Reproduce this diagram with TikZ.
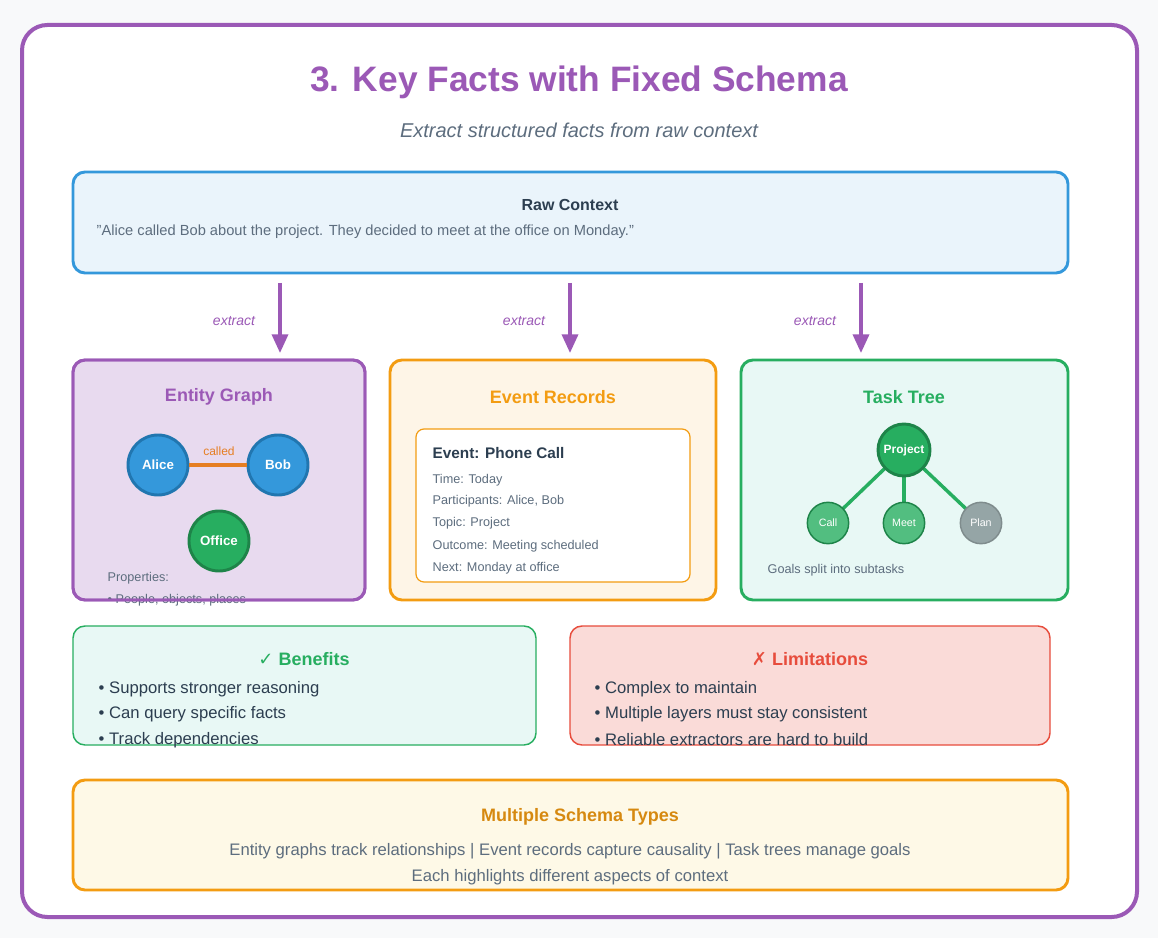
\documentclass[tikz,border=0pt]{standalone}
\usepackage{fontspec}
\setmainfont{Liberation Sans}
\newfontfamily\symfont{DejaVu Sans}
\definecolor{cPurple}{HTML}{9B59B6}
\definecolor{cBlue}{HTML}{3498DB}
\definecolor{cOrange}{HTML}{F39C12}
\definecolor{cGreen}{HTML}{27AE60}
\definecolor{cRed}{HTML}{E74C3C}
\definecolor{cGray}{HTML}{95A5A6}
\definecolor{cText}{HTML}{2C3E50}
\definecolor{cSub}{HTML}{5D6D7E}
\newcommand{\fs}[1]{\fontsize{#1}{#1}\selectfont}
\tikzset{
  panel/.style={draw=#1, line width=2.2pt, rounded corners=9pt},
  bullets/.style={anchor=west, text=cText, font=\fs{12.5}},
  small/.style={anchor=west, text=cSub, font=\fs{9.5}},
  ball/.style={circle, minimum size=#1, inner sep=0pt, text=white, font=\bfseries\fs{10}},
  grab/.style={-{Triangle[length=14pt,width=12pt]}, draw=cPurple, line width=2.6pt},
}
\usetikzlibrary{arrows.meta}
\begin{document}
\begin{tikzpicture}[x=0.75pt,y=-0.75pt]
  \fill[fill={rgb,255:red,248;green,249;blue,250}] (0,0) rectangle (1158,938);
  \useasboundingbox (0,0) rectangle (1158,938);
  % --- --- --- Frame and titles
  \draw[draw=cPurple, fill=white, line width=3pt, rounded corners=19pt] (22,25) rectangle (1137,917);
  \node (title) at (579,82) {\color{cPurple}\bfseries\fs{26.5}3. Key Facts with Fixed Schema};
  \node (subtitle) at (579,130) {\color{cSub}\itshape\fs{15}Extract structured facts from raw context};
  % --- --- --- Raw context
  \draw[panel=cBlue, fill={rgb,255:red,234;green,244;blue,251}] (73,172) rectangle (1068,273);
  \node (rawhead) at (570,205) {\color{cText}\bfseries\fs{12}Raw Context};
  \node[small, font=\fs{11}] (rawtext) at (92,232) {"Alice called Bob about the project. They decided to meet at the office on Monday."};
  % --- --- --- Arrows
  \foreach \x/\n in {280/a, 570/b, 861/c} {
    \coordinate (top\n) at (\x,283);
    \coordinate (bot\n) at (\x,353);
    \draw[grab] (top\n) -- (bot\n);
    \node[text=cPurple, font=\itshape\fs{10.5}] (ex\n) at (\x-46,321) {extract};
  }
  % --- --- --- Entity graph
  \draw[panel=cPurple, fill={rgb,255:red,232;green,218;blue,239}] (73,360) rectangle (365,600);
  \node[text=cPurple, font=\bfseries\fs{13.5}] (enthead) at (219,397) {Entity Graph};
  \node[ball=45pt, fill=cBlue, draw={rgb,255:red,33;green,118;blue,176}, line width=2.2pt] (alice) at (158,465) {Alice};
  \node[ball=45pt, fill=cBlue, draw={rgb,255:red,33;green,118;blue,176}, line width=2.2pt] (bob) at (278,465) {Bob};
  \node[ball=45pt, fill=cGreen, draw={rgb,255:red,30;green,132;blue,73}, line width=2.2pt] (office) at (219,541) {Office};
  \draw[draw={rgb,255:red,230;green,126;blue,34}, line width=2.4pt] (alice) -- (bob);
  \node[text={rgb,255:red,230;green,126;blue,34}, font=\fs{9}] (called) at (219,451) {called};
  \node[small] (props) at (103,578) {Properties:};
  \node[small] (propl) at (103,600) {• People, objects, places};
  \draw[cPurple, line width=2.2pt, rounded corners=9pt] (73,360) rectangle (365,600);
  % --- --- --- Event records
  \draw[panel=cOrange, fill={rgb,255:red,254;green,245;blue,231}] (390,360) rectangle (716,600);
  \node[text=cOrange, font=\bfseries\fs{13.5}] (evhead) at (553,397) {Event Records};
  \draw[draw=cOrange, fill=white, line width=0.9pt, rounded corners=6pt] (416,429) rectangle (690,582);
  \node[anchor=west, text=cText, font=\bfseries\fs{11.5}] (evtitle) at (428,453) {Event: Phone Call};
  \foreach \y/\t in {480/Time: Today, 501/{Participants: Alice, Bob}, 523/Topic: Project, 546/Outcome: Meeting scheduled, 568/Next: Monday at office}
    \node[small] at (428,\y) {\t};
  % --- --- --- Task tree
  \draw[panel=cGreen, fill={rgb,255:red,232;green,248;blue,245}] (741,360) rectangle (1068,600);
  \node[text=cGreen, font=\bfseries\fs{13.5}] (taskhead) at (904,397) {Task Tree};
  \foreach \n/\x in {call/828, meet/904, plan/981}
    \draw[cGreen, line width=2.6pt] (904,450) -- (\x,523);
  \node[ball=39pt, fill=cGreen, draw={rgb,255:red,30;green,132;blue,73}, line width=2.2pt, font=\bfseries\fs{9}] (project) at (904,450) {Project};
  \node[ball=31pt, fill={rgb,255:red,82;green,190;blue,128}, draw={rgb,255:red,30;green,132;blue,73}, line width=1.1pt, font=\fs{8}] (call) at (828,523) {Call};
  \node[ball=31pt, fill={rgb,255:red,82;green,190;blue,128}, draw={rgb,255:red,30;green,132;blue,73}, line width=1.1pt, font=\fs{8}] (meet) at (904,523) {Meet};
  \node[ball=31pt, fill=cGray, draw={rgb,255:red,127;green,140;blue,141}, line width=1.1pt, font=\fs{8}] (plan) at (981,523) {Plan};
  \node[small] (goals) at (763,570) {Goals split into subtasks};
  % --- --- --- Benefits and limitations
  \draw[draw=cGreen, fill={rgb,255:red,232;green,248;blue,245}, line width=1.1pt, rounded corners=9pt] (73,626) rectangle (536,745);
  \node[text=cGreen, font=\bfseries\fs{13.5}] (benhead) at (304,659) {{\symfont ✓} Benefits};
  \foreach \y/\t in {689/Supports stronger reasoning, 714/Can query specific facts, 740/Track dependencies}
    \node[bullets] at (94,\y) {• \t};
  \draw[draw=cRed, fill={rgb,255:red,250;green,219;blue,216}, line width=1.1pt, rounded corners=9pt] (570,626) rectangle (1050,745);
  \node[text=cRed, font=\bfseries\fs{13.5}] (limhead) at (810,659) {{\symfont ✗} Limitations};
  \foreach \y/\t in {689/Complex to maintain, 714/Multiple layers must stay consistent, 740/Reliable extractors are hard to build}
    \node[bullets] at (590,\y) {• \t};
  % --- --- --- Schema types
  \draw[panel=cOrange, fill={rgb,255:red,254;green,249;blue,231}] (73,780) rectangle (1068,890);
  \node[text={rgb,255:red,214;green,137;blue,16}, font=\bfseries\fs{13.5}] (typhead) at (580,817) {Multiple Schema Types};
  \node[text=cSub, font=\fs{12.5}] (typl1) at (570,851) {Entity graphs track relationships | Event records capture causality | Task trees manage goals};
  \node[text=cSub, font=\fs{12.5}] (typl2) at (570,877) {Each highlights different aspects of context};
\end{tikzpicture}
\end{document}
